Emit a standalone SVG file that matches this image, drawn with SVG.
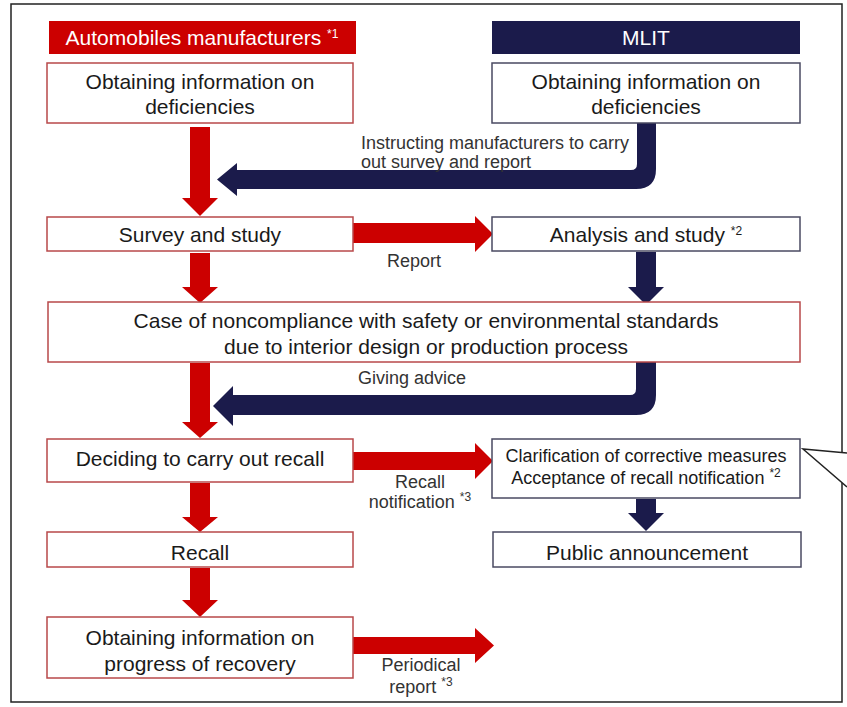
<svg xmlns="http://www.w3.org/2000/svg" width="847" height="707" viewBox="0 0 847 707">
<style>
text{font-family:"Liberation Sans",Arial,sans-serif;}
.hd{font-size:21px;fill:#ffffff;text-anchor:middle;}
.bt{font-size:21px;fill:#1a1a1a;text-anchor:middle;}
.st{font-size:18px;fill:#1a1a1a;text-anchor:middle;}
.lb{font-size:18px;fill:#333333;}
.lbm{font-size:18px;fill:#333333;text-anchor:middle;}
.sup{font-size:12px;}
.rb{fill:#ffffff;stroke:#b8484a;stroke-width:1.5;}
.nb{fill:#ffffff;stroke:#4a4a62;stroke-width:1.5;}
.red{fill:#cc0000;}
.navy{fill:#1b1b4b;}
.frame{fill:none;stroke:#222222;stroke-width:1.5;}
</style>
<rect x="0" y="0" width="847" height="707" fill="#ffffff"/>
<path class="frame" d="M842,452 L842,4 L11,4 L11,702 L842,702 L842,483"/>
<path class="frame" d="M847,453 L803,449 L847,487"/>

<g id="connectors">
<polygon class="red" points="190,127 210,127 210,198 218,198 200,216 182,198 190,198"/>
<polygon class="red" points="190,253 210,253 210,287 218,287 200,303 182,287 190,287"/>
<polygon class="red" points="190,363 210,363 210,422 218,422 200,438 182,422 190,422"/>
<polygon class="red" points="190,483 210,483 210,517 218,517 200,532 182,517 190,517"/>
<polygon class="red" points="190,568 210,568 210,600 218,600 200,617 182,600 190,600"/>
<polygon class="red" points="353,223 475,223 475,216 493,234 475,252 475,243 353,243"/>
<polygon class="red" points="353,452 475,452 475,443 493,461 475,479 475,470 353,470"/>
<polygon class="red" points="353,637 475,637 475,628 494,645.5 475,663 475,654 353,654"/>
<polygon class="navy" points="636,252 656,252 656,287 664,287 646,305 628,287 636,287"/>
<polygon class="navy" points="636,499 656,499 656,513 664,513 646,531 628,513 636,513"/>
<path class="navy" d="M637,123 L656,123 L656,169 Q656,189 636,189 L237,189 L237,196 L217,179.5 L237,163 L237,170 L631,170 Q637,170 637,164 Z"/>
<path class="navy" d="M636,362 L656,362 L656,395 Q656,415 636,415 L233,415 L233,426 L213,406 L233,386 L233,395 L630,395 Q636,395 636,389 Z"/>
<text class="lb" x="361" y="149">Instructing manufacturers to carry</text>
<text class="lb" x="361" y="168">out survey and report</text>
<text class="lbm" x="414" y="267">Report</text>
<text class="lb" x="358" y="384">Giving advice</text>
<text class="lbm" x="420" y="488">Recall</text>
<text class="lbm" x="420" y="508">notification <tspan class="sup" dy="-7">*3</tspan></text>
<text class="lbm" x="421" y="671">Periodical</text>
<text class="lbm" x="421" y="693">report <tspan class="sup" dy="-7">*3</tspan></text>
</g>

<g id="hdr-manufacturers">
<rect class="red" x="49" y="21" width="307" height="33"/>
<text class="hd" x="202" y="45">Automobiles manufacturers <tspan class="sup" font-size="13" dy="-7">*1</tspan></text>
</g>
<g id="hdr-mlit">
<rect class="navy" x="492" y="21" width="308" height="33"/>
<text class="hd" x="646" y="45">MLIT</text>
</g>

<g id="m-obtain">
<rect class="rb" x="47" y="63" width="306" height="60"/>
<text class="bt" x="200" y="89">Obtaining information on</text>
<text class="bt" x="200" y="114">deficiencies</text>
</g>
<g id="g-obtain">
<rect class="nb" x="492" y="63" width="308" height="60"/>
<text class="bt" x="646" y="89">Obtaining information on</text>
<text class="bt" x="646" y="114">deficiencies</text>
</g>
<g id="m-survey">
<rect class="rb" x="47" y="217" width="306" height="34"/>
<text class="bt" x="200" y="241.5">Survey and study</text>
</g>
<g id="g-analysis">
<rect class="nb" x="492" y="217" width="308" height="34"/>
<text class="bt" x="646" y="241.5">Analysis and study <tspan class="sup" font-size="13" dy="-7">*2</tspan></text>
</g>
<g id="case">
<rect class="rb" x="48" y="302" width="752" height="60"/>
<text class="bt" x="426" y="327.5">Case of noncompliance with safety or environmental standards</text>
<text class="bt" x="426" y="353.5">due to interior design or production process</text>
</g>
<g id="m-decide">
<rect class="rb" x="47" y="439" width="306" height="43"/>
<text class="bt" x="200" y="465.5">Deciding to carry out recall</text>
</g>
<g id="g-clarify">
<rect class="nb" x="492" y="439" width="308" height="59"/>
<text class="st" x="646" y="462">Clarification of corrective measures</text>
<text class="st" x="646" y="484">Acceptance of recall notification <tspan class="sup" dy="-7">*2</tspan></text>
</g>
<g id="m-recall">
<rect class="rb" x="47" y="532" width="306" height="35"/>
<text class="bt" x="200" y="559.5">Recall</text>
</g>
<g id="g-public">
<rect class="nb" x="493" y="532" width="308" height="35"/>
<text class="bt" x="647" y="559.5">Public announcement</text>
</g>
<g id="m-progress">
<rect class="rb" x="47" y="617" width="306" height="61"/>
<text class="bt" x="200" y="644.5">Obtaining information on</text>
<text class="bt" x="200" y="670.5">progress of recovery</text>
</g>
</svg>
